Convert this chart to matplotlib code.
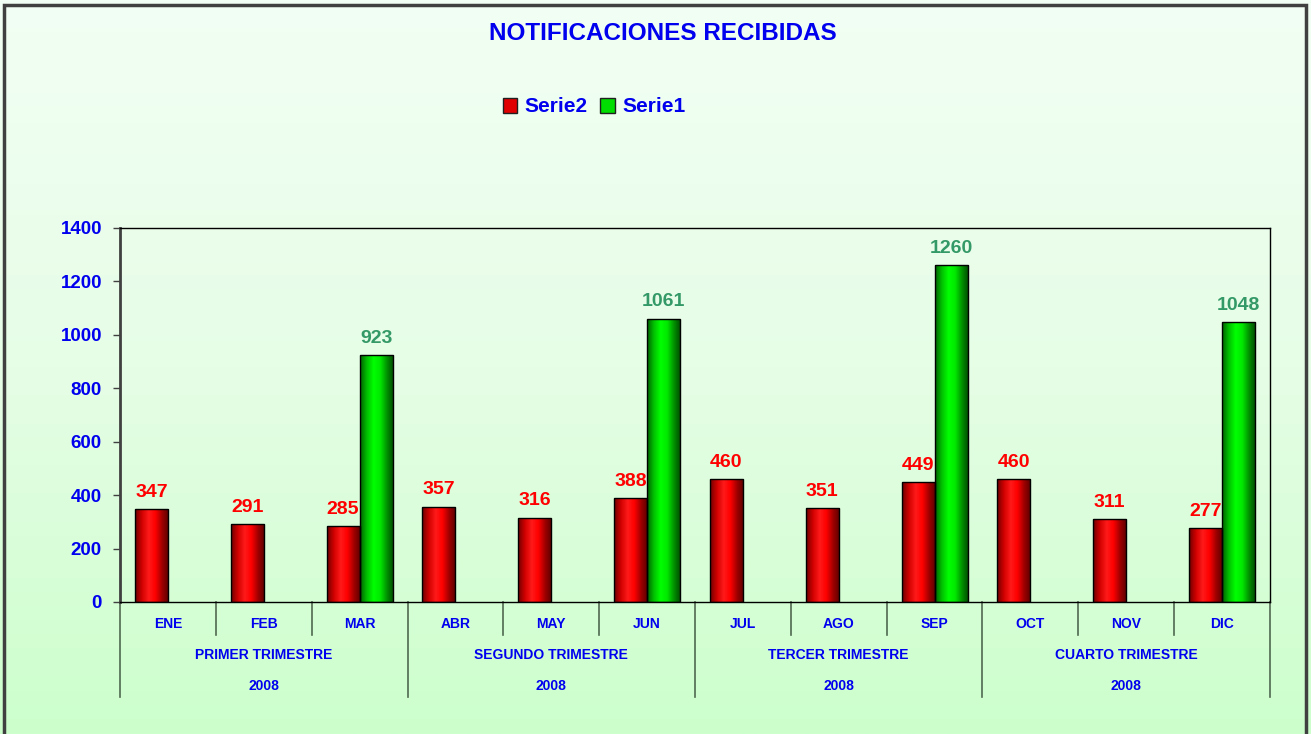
import numpy as np
import matplotlib
matplotlib.use("Agg")
from matplotlib import pyplot as plt
from matplotlib.colors import LinearSegmentedColormap
from matplotlib.patches import Patch
from matplotlib.lines import Line2D

plt.rcParams['font.family'] = ['Liberation Sans', 'DejaVu Sans']

months = ["ENE", "FEB", "MAR", "ABR", "MAY", "JUN", "JUL", "AGO", "SEP", "OCT", "NOV", "DIC"]
quarters = ["PRIMER TRIMESTRE", "SEGUNDO TRIMESTRE", "TERCER TRIMESTRE", "CUARTO TRIMESTRE"]
year = "2008"
serie2 = [347, 291, 285, 357, 316, 388, 460, 351, 449, 460, 311, 277]
serie1 = [None, None, 923, None, None, 1061, None, None, 1260, None, None, 1048]

blue = "#0000ee"
W, H = 1311, 734
fig = plt.figure(figsize=(W / 100, H / 100), dpi=100)

# background gradient for the whole chart
bg = fig.add_axes([0, 0, 1, 1], zorder=-10)
grad = np.linspace(0, 1, 256).reshape(-1, 1)
bg_cmap = LinearSegmentedColormap.from_list("bg", ["#f2fff4", "#e6fde6", "#ccffcc"])
bg.imshow(grad, aspect="auto", cmap=bg_cmap, extent=(0, 1, 0, 1), origin="upper")
bg.set_xlim(0, 1)
bg.set_ylim(0, 1)
bg.axis("off")
# outer chart border (left, top, right)
bg.plot([4 / W, 4 / W, 1306 / W, 1306 / W], [0, 1 - 5 / H, 1 - 5 / H, 0],
        color="#404040", lw=2.5, solid_joinstyle="miter")

ax = fig.add_axes([120 / W, 1 - 602 / H, 1150 / W, 374 / H])
ax.patch.set_alpha(0)

x = np.arange(len(months))
bw = 0.345
red_cmap = LinearSegmentedColormap.from_list("r", ["#6e0000", "#d00000", "#ff1a1a", "#ff0000", "#a00000", "#5a0000"])
green_cmap = LinearSegmentedColormap.from_list("g", ["#006000", "#00c000", "#00ff00", "#00e800", "#009000", "#004800"])

red_bars = ax.bar(x, serie2, width=-bw, align="edge", color="none", edgecolor="black", lw=1, zorder=3)
gx = [i for i, v in enumerate(serie1) if v is not None]
gv = [serie1[i] for i in gx]
green_bars = ax.bar(gx, gv, width=bw, align="edge", color="none", edgecolor="black", lw=1, zorder=3)

hgrad = np.linspace(0, 1, 128).reshape(1, -1)
for bars, cmap in [(red_bars, red_cmap), (green_bars, green_cmap)]:
    for b in bars:
        x0, w, h = b.get_x(), b.get_width(), b.get_height()
        x0, x1 = min(x0, x0 + w), max(x0, x0 + w)
        im = ax.imshow(hgrad, aspect="auto", cmap=cmap, extent=(x0, x1, 0, h), zorder=2)
        im.set_clip_path(b)

for b, v in zip(red_bars, serie2):
    ax.annotate(str(v), (b.get_x() + b.get_width() / 2, v), xytext=(0, 6), textcoords="offset points",
                ha="center", va="bottom", color="#ff0000", fontsize=14, fontweight="bold", zorder=5)
for b, v in zip(green_bars, gv):
    ax.annotate(str(v), (b.get_x() + b.get_width() / 2, v), xytext=(0, 6), textcoords="offset points",
                ha="center", va="bottom", color="#339966", fontsize=14, fontweight="bold", zorder=5)

ax.set_xlim(-0.5, 11.5)
ax.set_ylim(0, 1400)
ax.set_yticks(range(0, 1401, 200))
ax.tick_params(axis="y", colors="#404040", length=5, width=1, labelsize=13.5, pad=8)
for lab in ax.get_yticklabels():
    lab.set_color(blue)
    lab.set_fontweight("bold")
ax.set_xticks([])
ax.spines["left"].set_color("#404040")
ax.spines["left"].set_linewidth(2)
for s in ["top", "right", "bottom"]:
    ax.spines[s].set_color("black")
    ax.spines[s].set_linewidth(1)

# multi-level category axis
tr = ax.get_xaxis_transform()
for i, m in enumerate(months):
    ax.text(i, -0.059, m, transform=tr, ha="center", va="center", color=blue,
            fontsize=10, fontweight="bold")
for i, q in enumerate(quarters):
    c = 3 * i + 1
    ax.text(c, -0.142, q, transform=tr, ha="center", va="center", color=blue,
            fontsize=10, fontweight="bold")
    ax.text(c, -0.225, year, transform=tr, ha="center", va="center", color=blue,
            fontsize=10, fontweight="bold")
for k in range(13):
    xb = k - 0.5
    bottom = -0.254 if k % 3 == 0 else -0.088
    ax.add_line(Line2D([xb, xb], [0, bottom], transform=tr, color="#506850",
                       lw=1.2, clip_on=False))

fig.text(663 / W, 1 - 33 / H, "NOTIFICACIONES RECIBIDAS", ha="center", va="center",
         color=blue, fontsize=17.5, fontweight="bold")

handles = [Patch(facecolor="#e00000", edgecolor="#202020", label="Serie2"),
           Patch(facecolor="#00dd00", edgecolor="#202020", label="Serie1")]
leg = fig.legend(handles=handles, loc="center", bbox_to_anchor=(594 / W, 1 - 107 / H), ncol=2,
                 frameon=False, handlelength=0.7, handleheight=0.7, handletextpad=0.35,
                 columnspacing=0.6, prop={"size": 15, "weight": "bold"})
for t in leg.get_texts():
    t.set_color(blue)

fig.savefig("out.png", dpi=100)
